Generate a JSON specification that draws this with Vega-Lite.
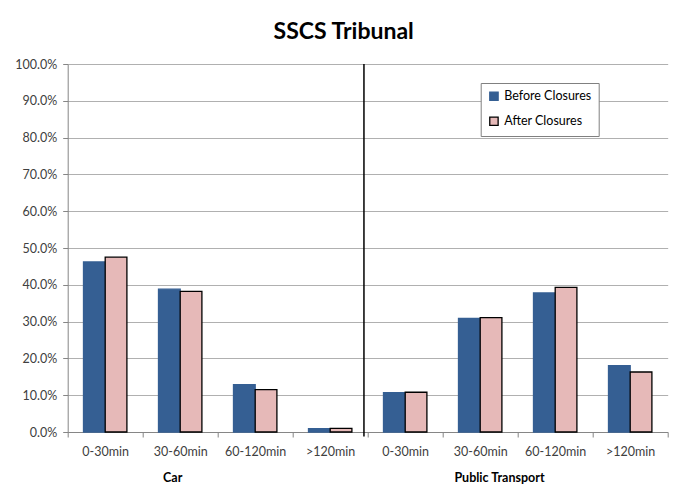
{
  "$schema": "https://vega.github.io/schema/vega-lite/v6.json",
  "autosize": "none",
  "width": 600,
  "height": 368,
  "padding": {"left": 67.7, "top": 64, "right": 12.3, "bottom": 61},
  "background": "white",
  "title": {
    "text": "SSCS Tribunal",
    "font": "Lato",
    "fontSize": 23,
    "fontWeight": "bold",
    "color": "#000000",
    "anchor": "middle",
    "dx": -24,
    "offset": 14
  },
  "config": {
    "view": {"stroke": null},
    "font": "Lato",
    "axisY": {"tickCount": 12, "labelOverlap": false, "labelFontSize": 12.5, "labelColor": "#404040", "labelPadding": 6, "tickSize": 5, "tickColor": "#868686", "domainColor": "#868686", "gridColor": "#b0b0b0"},
    "axisX": {"labelOverlap": false, "labelFontSize": 12.5, "labelColor": "#404040", "labelPadding": 8, "tickSize": 5, "tickColor": "#868686", "domainColor": "#868686"}
  },
  "data": {
    "values": [
      {"cat": "Car|0-30min", "series": "Before Closures", "value": 0.462},
      {"cat": "Car|0-30min", "series": "After Closures", "value": 0.475},
      {"cat": "Car|30-60min", "series": "Before Closures", "value": 0.388},
      {"cat": "Car|30-60min", "series": "After Closures", "value": 0.382},
      {"cat": "Car|60-120min", "series": "Before Closures", "value": 0.129},
      {"cat": "Car|60-120min", "series": "After Closures", "value": 0.115},
      {"cat": "Car|>120min", "series": "Before Closures", "value": 0.009},
      {"cat": "Car|>120min", "series": "After Closures", "value": 0.010},
      {"cat": "Public Transport|0-30min", "series": "Before Closures", "value": 0.107},
      {"cat": "Public Transport|0-30min", "series": "After Closures", "value": 0.108},
      {"cat": "Public Transport|30-60min", "series": "Before Closures", "value": 0.309},
      {"cat": "Public Transport|30-60min", "series": "After Closures", "value": 0.311},
      {"cat": "Public Transport|60-120min", "series": "Before Closures", "value": 0.378},
      {"cat": "Public Transport|60-120min", "series": "After Closures", "value": 0.393},
      {"cat": "Public Transport|>120min", "series": "Before Closures", "value": 0.180},
      {"cat": "Public Transport|>120min", "series": "After Closures", "value": 0.163}
    ]
  },
  "layer": [
    {
      "mark": {"type": "bar", "strokeWidth": 1.3},
      "encoding": {
        "x": {
          "field": "cat",
          "type": "nominal",
          "sort": null,
          "scale": {"paddingInner": 0, "paddingOuter": 0},
          "axis": {
            "title": null,
            "labelExpr": "split(datum.label, '|')[1]",
            "labelAngle": 0,
            "tickBand": "extent",
            "grid": false
          }
        },
        "xOffset": {
          "field": "series",
          "type": "nominal",
          "sort": ["Before Closures", "After Closures"],
          "scale": {"paddingInner": 0, "paddingOuter": 0.728}
        },
        "y": {
          "field": "value",
          "type": "quantitative",
          "scale": {"domain": [0, 1], "nice": false},
          "axis": {
            "title": null,
            "values": [0, 0.1, 0.2, 0.3, 0.4, 0.5, 0.6, 0.7, 0.8, 0.9, 1],
            "tickCount": 12,
            "format": ".1%",
            "grid": true
          }
        },
        "color": {
          "field": "series",
          "type": "nominal",
          "sort": ["Before Closures", "After Closures"],
          "scale": {"domain": ["Before Closures", "After Closures"], "range": ["#355F93", "#E6B9B8"]},
          "legend": {
            "title": null,
            "orient": "none",
            "legendX": 413,
            "legendY": 19,
            "symbolType": "square",
            "symbolSize": 70,
            "symbolStrokeWidth": 1.3,
            "labelFont": "Lato",
            "labelFontSize": 12.5,
            "labelColor": "#000000",
            "labelOffset": 4,
            "rowPadding": 10,
            "padding": 7,
            "strokeColor": "#808080",
            "fillColor": "white"
          }
        },
        "stroke": {
          "field": "series",
          "type": "nominal",
          "sort": ["Before Closures", "After Closures"],
          "scale": {"domain": ["Before Closures", "After Closures"], "range": ["#355F93", "#000000"]},
          "legend": {
            "title": null,
            "orient": "none",
            "legendX": 413,
            "legendY": 19
          }
        }
      }
    },
    {
      "data": {"values": [{"label": "divider"}]},
      "mark": {"type": "rule", "color": "#000000", "strokeWidth": 1.5},
      "encoding": {
        "x": {"datum": "Car|>120min", "type": "nominal", "bandPosition": 0.95},
        "y": {"datum": 1, "type": "quantitative"},
        "y2": {"datum": -0.012}
      }
    },
    {
      "data": {"values": [{"label": "Car"}]},
      "mark": {"type": "text", "font": "Lato", "fontSize": 12.5, "fontWeight": "bold", "color": "#000000", "baseline": "middle", "align": "center"},
      "encoding": {
        "x": {"datum": "Car|30-60min", "type": "nominal", "bandPosition": 0.4},
        "y": {"datum": -0.126, "type": "quantitative"},
        "text": {"field": "label", "type": "nominal"}
      }
    },
    {
      "data": {"values": [{"label": "Public Transport"}]},
      "mark": {"type": "text", "font": "Lato", "fontSize": 12.5, "fontWeight": "bold", "color": "#000000", "baseline": "middle", "align": "center"},
      "encoding": {
        "x": {"datum": "Public Transport|30-60min", "type": "nominal", "bandPosition": 0.757},
        "y": {"datum": -0.126, "type": "quantitative"},
        "text": {"field": "label", "type": "nominal"}
      }
    }
  ]
}
